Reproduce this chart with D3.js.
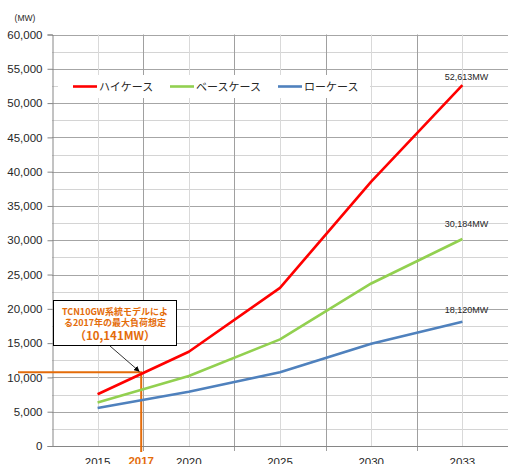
<!DOCTYPE html>
<html>
<head>
<meta charset="utf-8">
<script src="https://cdn.jsdelivr.net/npm/d3@7"></script>
<style>
  body { margin: 0; background: #fff; }
  svg { display: block; }
</style>
</head>
<body>
<div id="chart"></div>
<script>
// data
var years = ["2015", "2020", "2025", "2030", "2033"];
var seriesNames = ["ハイケース", "ベースケース", "ローケース"];
var highCase = [7550, 13750, 23050, 38550, 52613];
var baseCase = [6350, 10200, 15550, 23700, 30184];
var lowCase  = [5550, 7900, 10750, 14900, 18120];
var endLabels = ["52,613MW", "30,184MW", "18,120MW"];
var yTicks = [0, 5000, 10000, 15000, 20000, 25000, 30000, 35000, 40000, 45000, 50000, 55000, 60000];
var markerYear = "2017";
var markerLevel = 10750;   // where the orange guide sits in the picture
var noteLines = ["TCN10GW系統モデルによ", "る2017年の最大負荷想定", "（10,141MW）"];

var colors = ["#ff0000", "#92d050", "#4f81bd"];
var orange = "#e46c0a";
var W = 508, H = 464;
var plotL = 52, plotR = 508, plotT = 34.5, plotB = 446;

var svg = d3.select("#chart").append("svg")
  .attr("width", W).attr("height", H);

var x = d3.scaleBand().domain(years).range([plotL, plotR]);
var y = d3.scaleLinear().domain([0, 60000]).range([plotB, plotT]);
var cx = function(d) { return x(d) + x.bandwidth() / 2; };

// horizontal grid (minor every 2500, major every 5000)
var minor = d3.range(2500, 60000, 5000);
svg.append("g").selectAll("line").data(minor).join("line")
  .attr("x1", plotL).attr("x2", plotR)
  .attr("y1", function(d) { return Math.round(y(d)) + 0.5; })
  .attr("y2", function(d) { return Math.round(y(d)) + 0.5; })
  .attr("stroke", "#d4d4d4");
svg.append("g").selectAll("line").data(yTicks.slice(1)).join("line")
  .attr("x1", plotL).attr("x2", plotR)
  .attr("y1", function(d) { return Math.round(y(d)) + 0.5; })
  .attr("y2", function(d) { return Math.round(y(d)) + 0.5; })
  .attr("stroke", "#a6a6a6");

// vertical grid: light at category centers, darker at boundaries
svg.append("g").selectAll("line").data(years).join("line")
  .attr("x1", function(d) { return Math.round(cx(d)) + 0.5; })
  .attr("x2", function(d) { return Math.round(cx(d)) + 0.5; })
  .attr("y1", plotT).attr("y2", plotB)
  .attr("stroke", "#d9d9d9");
svg.append("g").selectAll("line").data(years.slice(1)).join("line")
  .attr("x1", function(d) { return Math.round(x(d)) + 0.5; })
  .attr("x2", function(d) { return Math.round(x(d)) + 0.5; })
  .attr("y1", plotT).attr("y2", plotB + 5)
  .attr("stroke", "#a0a0a0");

// axes
var yAxis = d3.axisLeft(y).tickValues(yTicks).tickSize(5).tickPadding(5)
  .tickFormat(d3.format(","));
var gy = svg.append("g").attr("transform", "translate(" + (plotL + 0.5) + ",0)").call(yAxis);
gy.select(".domain").attr("stroke", "#868686");
gy.selectAll(".tick line").attr("stroke", "#868686");
gy.selectAll("text").attr("fill", "#262626")
  .style("font-family", "'Liberation Sans', Arial, sans-serif").style("font-size", "11.5px");

svg.append("line").attr("x1", plotL).attr("x2", plotR)
  .attr("y1", plotB + 0.5).attr("y2", plotB + 0.5).attr("stroke", "#868686");

svg.append("g").selectAll("text").data(years).join("text")
  .attr("x", cx).attr("y", plotB + 20)
  .attr("text-anchor", "middle").attr("fill", "#262626")
  .style("font-family", "'Liberation Sans', Arial, sans-serif").style("font-size", "11.5px")
  .text(function(d) { return d; });

svg.append("text").attr("x", 25).attr("y", 21).attr("text-anchor", "middle")
  .attr("fill", "#262626")
  .style("font-family", "'Liberation Sans', Arial, sans-serif").style("font-size", "8.5px")
  .text("(MW)");

// series lines
var allSeries = [highCase, baseCase, lowCase];
var line = d3.line()
  .x(function(d, i) { return cx(years[i]); })
  .y(function(d) { return y(d); });

// orange guide for 2017 (drawn under the lines)
var mx = x(years[1]) - 2;
svg.append("line").attr("x1", 18).attr("x2", mx + 1)
  .attr("y1", y(markerLevel)).attr("y2", y(markerLevel))
  .attr("stroke", orange).attr("stroke-width", 2);
svg.append("line").attr("x1", mx).attr("x2", mx)
  .attr("y1", y(markerLevel)).attr("y2", plotB + 6)
  .attr("stroke", orange).attr("stroke-width", 2);
svg.append("text").attr("x", mx).attr("y", plotB + 19)
  .attr("text-anchor", "middle").attr("fill", orange)
  .style("font-family", "'Liberation Sans', Arial, sans-serif").style("font-size", "11.5px")
  .style("font-weight", "bold").text(markerYear);

svg.append("g").selectAll("path").data(allSeries).join("path")
  .attr("d", line)
  .attr("fill", "none")
  .attr("stroke", function(d, i) { return colors[i]; })
  .attr("stroke-width", 2.6)
  .attr("stroke-linejoin", "round");

// end value labels
var endDy = [-5.5, -12, -8.5];
svg.append("g").selectAll("text").data(allSeries).join("text")
  .attr("x", cx(years[years.length - 1]) + 4)
  .attr("y", function(d, i) { return y(d[d.length - 1]) + endDy[i]; })
  .attr("text-anchor", "middle").attr("fill", "#262626")
  .style("font-family", "'Liberation Sans', Arial, sans-serif").style("font-size", "9px")
  .text(function(d, i) { return endLabels[i]; });

// legend
svg.append("rect").attr("x", 58).attr("y", 75).attr("width", 312).attr("height", 23)
  .attr("fill", "#fff");
var legendX = [73, 170, 278];
var lg = svg.append("g").selectAll("g").data(seriesNames).join("g")
  .attr("transform", function(d, i) { return "translate(" + legendX[i] + ",86.5)"; });
lg.append("line").attr("x1", 0).attr("x2", 24)
  .attr("stroke", function(d, i) { return colors[i]; }).attr("stroke-width", 2.6);
lg.append("text").attr("x", 26).attr("y", 4)
  .attr("fill", "#262626")
  .style("font-family", "'Noto Sans CJK JP', sans-serif").style("font-size", "11px")
  .text(function(d) { return d; });

// callout box with arrow
var defs = svg.append("defs");
defs.append("marker").attr("id", "arr").attr("viewBox", "0 0 10 10")
  .attr("refX", 9).attr("refY", 5).attr("markerWidth", 7).attr("markerHeight", 7)
  .attr("orient", "auto")
  .append("path").attr("d", "M0,0L10,5L0,10z").attr("fill", "#000");
svg.append("line").attr("x1", 110).attr("y1", 346).attr("x2", mx - 2).attr("y2", y(markerLevel) - 1)
  .attr("stroke", "#000").attr("stroke-width", 0.8).attr("marker-end", "url(#arr)");

svg.append("rect").attr("x", 53.5).attr("y", 300.5).attr("width", 123).attr("height", 45)
  .attr("fill", "#fff").attr("stroke", "#000").attr("stroke-width", 1);
var noteY = [314.5, 326, 339.5];
var noteSize = [9, 9, 11.5];
svg.append("g").selectAll("text").data(noteLines).join("text")
  .attr("x", 115).attr("y", function(d, i) { return noteY[i]; })
  .attr("text-anchor", "middle").attr("fill", orange)
  .style("font-family", "'Noto Sans CJK JP', sans-serif")
  .style("font-weight", "bold")
  .style("font-size", function(d, i) { return noteSize[i] + "px"; })
  .text(function(d) { return d; });
</script>
</body>
</html>
